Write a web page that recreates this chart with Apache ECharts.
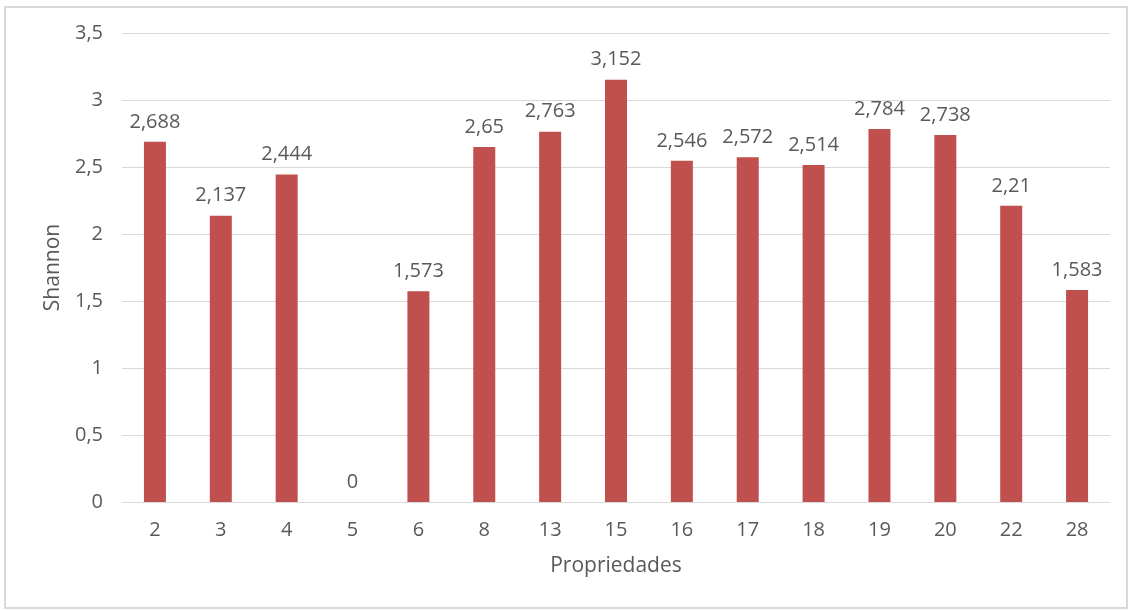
<!DOCTYPE html>
<html>
<head>
<meta charset="utf-8">
<script src="https://cdn.jsdelivr.net/npm/echarts@6/dist/echarts.min.js"></script>
<style>
html,body{margin:0;padding:0;background:#fff;}
#chart{width:1129px;height:610px;}
</style>
</head>
<body>
<div id="chart"></div>
<script>
const categories = ['2','3','4','5','6','8','13','15','16','17','18','19','20','22','28'];
const shannonValues = [2.688, 2.137, 2.444, 0, 1.573, 2.65, 2.763, 3.152, 2.546, 2.572, 2.514, 2.784, 2.738, 2.21, 1.583];
const yTicks = [0, 0.5, 1, 1.5, 2, 2.5, 3, 3.5];

const FONT = '"Open Sans", "Liberation Sans", sans-serif';
const fmt = v => String(v).replace('.', ',');

const chart = echarts.init(document.getElementById('chart'));
chart.setOption({
  animation: false,
  backgroundColor: '#ffffff',
  graphic: [{
    type: 'rect',
    shape: {x: 5, y: 7, width: 1122, height: 601},
    style: {fill: 'none', stroke: '#d9d9d9', lineWidth: 2},
    silent: true
  }],
  grid: {left: 122, right: 19, top: 33, bottom: 108, containLabel: false},
  xAxis: {
    type: 'category',
    data: categories,
    name: 'Propriedades',
    nameLocation: 'middle',
    nameGap: 54,
    nameTextStyle: {color: '#595959', fontSize: 21, fontFamily: FONT},
    axisLine: {lineStyle: {color: '#d9d9d9', width: 1}},
    axisTick: {show: false},
    axisLabel: {color: '#595959', fontSize: 20, fontFamily: FONT, margin: 18}
  },
  yAxis: {
    type: 'value',
    min: yTicks[0],
    max: yTicks[yTicks.length - 1],
    interval: 0.5,
    name: 'Shannon',
    nameLocation: 'middle',
    nameGap: 58,
    nameTextStyle: {color: '#595959', fontSize: 21, fontFamily: FONT},
    axisLine: {show: false},
    axisTick: {show: false},
    splitLine: {lineStyle: {color: '#d9d9d9', width: 1}},
    axisLabel: {color: '#595959', fontSize: 20, fontFamily: FONT, margin: 19, formatter: v => fmt(v)}
  },
  series: [{
    type: 'bar',
    data: shannonValues,
    barWidth: 22,
    itemStyle: {color: '#C0504D'},
    label: {
      show: true,
      position: 'top',
      distance: 10,
      color: '#595959',
      fontSize: 20,
      fontFamily: FONT,
      formatter: p => fmt(p.value)
    }
  }]
});
</script>
</body>
</html>
